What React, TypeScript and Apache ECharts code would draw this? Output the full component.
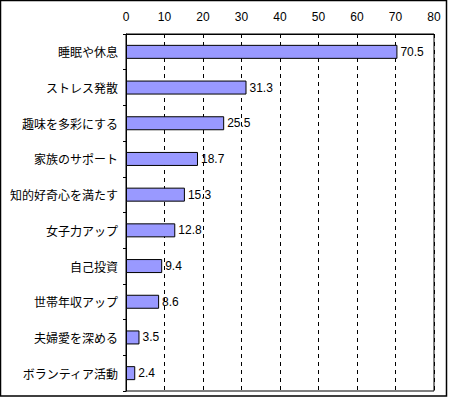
import React, { useEffect, useRef } from "react";
import * as echarts from "echarts";

const categories = [
  "睡眠や休息",
  "ストレス発散",
  "趣味を多彩にする",
  "家族のサポート",
  "知的好奇心を満たす",
  "女子力アップ",
  "自己投資",
  "世帯年収アップ",
  "夫婦愛を深める",
  "ボランティア活動",
];
const values = [70.5, 31.3, 25.5, 18.7, 15.3, 12.8, 9.4, 8.6, 3.5, 2.4];
const axisMin = 0;
const axisMax = 80;
const axisStep = 10;

const FONT = "'Noto Sans CJK JP', 'Noto Sans', sans-serif";
const NUM_FONT = "'Liberation Sans', Arial, sans-serif";

export default function App() {
  const ref = useRef<HTMLDivElement>(null);
  useEffect(() => {
    document.body.style.margin = "0";
    const chart = echarts.init(ref.current!, null, { renderer: "svg" });
    chart.setOption({
      animation: false,
      backgroundColor: "#ffffff",
      textStyle: { fontFamily: FONT },
      graphic: [
        {
          type: "rect",
          shape: { x: 0.5, y: 0.5, width: 446, height: 395.5 },
          style: { fill: "none", stroke: "#000", lineWidth: 1.5 },
          silent: true,
        },
      ],
      grid: {
        left: 126,
        top: 34,
        width: 308,
        height: 357,
        show: true,
        borderColor: "#000",
        borderWidth: 1,
        backgroundColor: "transparent",
      },
      xAxis: {
        type: "value",
        position: "top",
        min: axisMin,
        max: axisMax,
        interval: axisStep,
        axisLine: { show: true, lineStyle: { color: "#000", width: 1 } },
        axisTick: { show: false },
        axisLabel: {
          color: "#000",
          fontSize: 12,
          fontFamily: NUM_FONT,
          margin: 11,
        },
        splitLine: {
          show: true,
          lineStyle: { color: "#000", type: [4, 4], width: 1 },
        },
      },
      yAxis: {
        type: "category",
        data: categories,
        inverse: true,
        axisLine: { show: true, lineStyle: { color: "#000", width: 1 } },
        axisTick: { show: true, length: 3, lineStyle: { color: "#000" } },
        axisLabel: {
          color: "#000",
          fontSize: 12,
          fontFamily: FONT,
          margin: 8,
        },
        splitLine: { show: false },
      },
      series: [
        {
          type: "bar",
          data: values,
          barWidth: 14,
          itemStyle: {
            color: "#9999ff",
            borderColor: "#000",
            borderWidth: 1,
          },
          label: {
            show: true,
            position: "right",
            distance: 3,
            color: "#000",
            fontSize: 12,
            fontFamily: NUM_FONT,
            formatter: (p: any) => String(p.value),
          },
        },
      ],
    });
    return () => chart.dispose();
  }, []);
  return <div ref={ref} style={{ width: 450, height: 397 }} />;
}
